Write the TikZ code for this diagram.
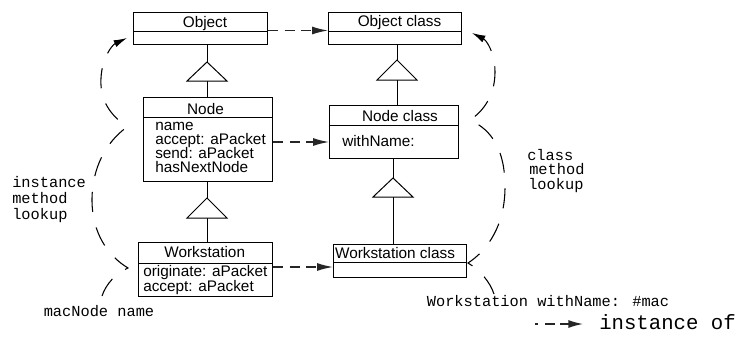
\documentclass[tikz,border=0pt]{standalone}
\usepackage{fontspec}
\setmainfont{Liberation Sans}
\newfontfamily\monofam{Liberation Mono}
\usetikzlibrary{arrows.meta,calc}

\begin{document}
\begin{tikzpicture}[x=0.75pt,y=-0.75pt,
  box/.style={draw, line width=0.75pt, inner sep=0pt, anchor=north west},
  lbl/.style={inner sep=0pt, font=\fontsize{11.5}{11}\selectfont},
  mono/.style={inner sep=0pt, font=\monofam\fontsize{11.5}{12}\selectfont},
  bigmono/.style={inner sep=0pt, font=\monofam\fontsize{15.5}{16}\selectfont},
  link/.style={line width=0.75pt},
  tri/.style={line width=0.75pt, fill=white},
  inst/.style={line width=1pt, black!85, dash pattern=on 7.5pt off 5pt,
    -{Latex[length=12pt,width=6pt]}},
  lookup/.style={line width=0.8pt, dash pattern=on 15pt off 12pt},
  lookarrow/.style={lookup, -{Latex[length=10pt,width=5.5pt]}}]

\useasboundingbox (0,0) rectangle (738,344);

% ---------------- class boxes ----------------
\node[box, minimum width=100.5pt, minimum height=24pt]    (obj)  at (133,12)  {};
\node[box, minimum width=99.75pt, minimum height=24pt]    (objc) at (328,12)  {};
\node[box, minimum width=96.75pt, minimum height=63pt]    (nd)   at (143,97)  {};
\node[box, minimum width=96.75pt, minimum height=39.75pt] (ndc)  at (329,105) {};
\node[box, minimum width=100.5pt, minimum height=40.5pt]  (ws)   at (138,242) {};
\node[box, minimum width=99.75pt, minimum height=24.75pt] (wsc)  at (333,244) {};

% compartment dividers
\draw[link] (obj.west |- 0,31)  -- (obj.east |- 0,31);
\draw[link] (objc.west |- 0,31) -- (objc.east |- 0,31);
\draw[link] (nd.west |- 0,117)  -- (nd.east |- 0,117);
\draw[link] (ndc.west |- 0,125) -- (ndc.east |- 0,125);
\draw[link] (ws.west |- 0,263)  -- (ws.east |- 0,263);
\draw[link] (wsc.west |- 0,262) -- (wsc.east |- 0,262);

% ---------------- box texts ----------------
\node[lbl, anchor=base] (objT)  at (205,27)    {Object};
\node[lbl, anchor=base] (objcT) at (399.5,26.5) {Object class};
\node[lbl, anchor=base] (ndT)   at (205.5,114.5) {Node};
\node[lbl, anchor=base west] (nd1) at (155,130) {name};
\node[lbl, anchor=base west] (nd2) at (155,144) {accept: aPacket};
\node[lbl, anchor=base west] (nd3) at (155,158) {send: aPacket};
\node[lbl, anchor=base west] (nd4) at (155,172) {hasNextNode};
\node[lbl, anchor=base] (ndcT)  at (400,121)   {Node class};
\node[lbl, anchor=base west] (ndc1) at (342,146) {withName:};
\node[lbl, anchor=base] (wsT)   at (204.7,257.5) {Workstation};
\node[lbl, anchor=base west] (ws1) at (143,276.5) {originate: aPacket};
\node[lbl, anchor=base west] (ws2) at (143,291)   {accept: aPacket};
\node[lbl, anchor=base] (wscT)  at (395,258)   {Workstation class};

% ---------------- generalisation triangles ----------------
\coordinate (t1a) at (207,62);  \coordinate (t1b) at (207,81);
\coordinate (t2a) at (397,60);  \coordinate (t2b) at (397,80);
\coordinate (t3a) at (207,198); \coordinate (t3b) at (207,218);
\coordinate (t4a) at (393,178); \coordinate (t4b) at (393,197);

\draw[link] (obj.south -| t1a) -- (t1a);
\draw[link] (t1b) -- (nd.north -| t1b);
\draw[link] (objc.south -| t2a) -- (t2a);
\draw[link] (t2b) -- (ndc.north -| t2b);
\draw[link] (nd.south -| t3a) -- (t3a);
\draw[link] (t3b) -- (ws.north -| t3b);
\draw[link] (ndc.south -| t4a) -- (t4a);
\draw[link] (t4b) -- (wsc.north -| t4b);

\draw[tri] (t1a) -- ++(20,19) -- ++(-40,0) -- cycle;
\draw[tri] (t2a) -- ++(20,20) -- ++(-40,0) -- cycle;
\draw[tri] (t3a) -- ++(20,20) -- ++(-40,0) -- cycle;
\draw[tri] (t4a) -- ++(20,19) -- ++(-40,0) -- cycle;

% ---------------- instance-of arrows ----------------
\draw[inst] (obj.east |- 0,30.5) -- (objc.west |- 0,30.5);
\draw[inst] (nd.east |- 0,142)   -- (ndc.west |- 0,142);
\draw[inst] (ws.east |- 0,267)   -- (wsc.west |- 0,267);

% ---------------- annotations ----------------
\node[mono, anchor=base west] (iml1) at (12,187) {instance};
\node[mono, anchor=base west] (iml2) at (12,203) {method};
\node[mono, anchor=base west] (iml3) at (12,219) {lookup};
\node[mono, anchor=base] (mac) at (99,316.5) {macNode name};

\node[mono, anchor=base west] (cml1) at (527,160)   {class};
\node[mono, anchor=base west] (cml2) at (529,174.7) {method};
\node[mono, anchor=base west] (cml3) at (528,189.3) {lookup};
\node[mono, anchor=base] (wsn) at (548,306.5) {Workstation withName: \#mac};

% instance method lookup path: Workstation -> Node -> Object
\coordinate (ls) at (102,296);
\coordinate (lws) at (128,268);
\coordinate (lnd) at (127,127);
\coordinate (lob) at (127,38);
\draw[lookarrow] (ls) .. controls (106,284) and (116,273) .. (lws)
  .. controls (108,256) and (92,233) .. (92,200)
  .. controls (92,168) and (106,142) .. (lnd)
  .. controls (106,112) and (100,96) .. (101,78)
  .. controls (102,58) and (112,45) .. (lob);

% class method lookup path: Workstation class -> Node class -> Object class
\coordinate (rs) at (494,294);
\coordinate (rws) at (468,263);
\coordinate (rnd) at (470,120);
\coordinate (rob) at (472,33);
\draw[lookarrow] (rs) .. controls (490,282) and (480,270) .. (rws)
  .. controls (488,250) and (505,225) .. (505,187)
  .. controls (505,150) and (492,130) .. (rnd)
  .. controls (488,108) and (495,90) .. (495,72)
  .. controls (495,52) and (486,40) .. (rob);

% ---------------- legend ----------------
\node[bigmono, anchor=base west] (lgT) at (599,329) {instance of};
\coordinate (lgA) at (535,324);
\coordinate (lgB) at (583,324);
\draw[inst, dash pattern=on 2.5pt off 5pt on 7.5pt off 3.75pt on 12pt off 1pt,
  -{Latex[length=11pt,width=6pt]}] (lgA) -- (lgB);

\end{tikzpicture}
\end{document}
